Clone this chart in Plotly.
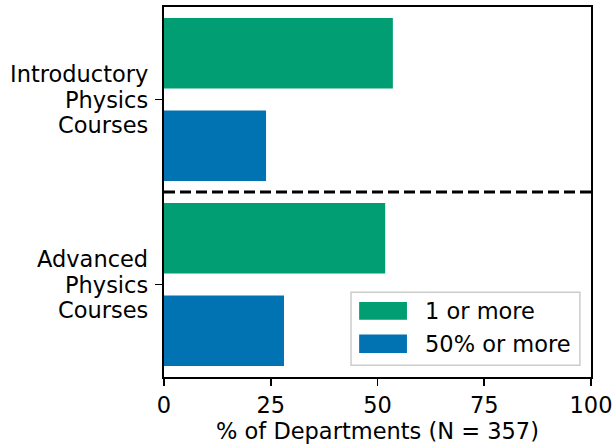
import plotly.graph_objects as go

categories = ["Advanced\nPhysics\nCourses", "Introductory\nPhysics\nCourses"]
series_names = ["1 or more", "50% or more"]
one_or_more = [51.8, 53.6]
fifty_or_more = [28.1, 23.9]
x_ticks = [0, 25, 50, 75, 100]

GREEN = "#029e73"
BLUE = "#0173b2"
FONT = "DejaVu Sans"
FS = 22.5

fig = go.Figure()
fig.add_trace(go.Bar(y=categories, x=fifty_or_more, orientation="h",
                     marker=dict(color=BLUE, line=dict(width=0)),
                     name=series_names[1], showlegend=False))
fig.add_trace(go.Bar(y=categories, x=one_or_more, orientation="h",
                     marker=dict(color=GREEN, line=dict(width=0)),
                     name=series_names[0], showlegend=False))

# right-aligned multi-line category labels
for cat in categories:
    lines = cat.split("\n")
    n = len(lines)
    for i, ln in enumerate(lines):
        fig.add_annotation(xref="paper", yref="y", x=0, y=cat, text=ln, showarrow=False,
                           xanchor="right", yanchor="middle", xshift=-14,
                           yshift=(n - 1) / 2 * 25.5 - i * 25.5,
                           font=dict(family=FONT, size=FS, color="black"))

# separator dashed line between groups
fig.add_shape(type="line", xref="paper", x0=0, x1=1, yref="y", y0=0.5, y1=0.5,
              line=dict(color="black", width=3, dash="11px,5px"))

# manual legend (matplotlib style)
fig.add_shape(type="rect", xref="paper", yref="paper", x0=0.438, x1=0.974, y0=0.032, y1=0.229,
              line=dict(color="#cccccc", width=1.5), fillcolor="rgba(255,255,255,0.8)", layer="above")
legend_rows = [(series_names[0], GREEN, 0.155, 0.203, 0.179),
               (series_names[1], BLUE, 0.065, 0.115, 0.090)]
for name, col, y0, y1, yc in legend_rows:
    fig.add_shape(type="rect", xref="paper", yref="paper", x0=0.457, x1=0.569, y0=y0, y1=y1,
                  line=dict(width=0), fillcolor=col, layer="above")
    fig.add_annotation(xref="paper", yref="paper", x=0.607, y=yc, text=name, showarrow=False,
                       xanchor="left", yanchor="middle", font=dict(family=FONT, size=FS, color="black"))

fig.update_layout(
    width=613, height=445,
    margin=dict(l=163.5, r=22, t=7, b=68),
    paper_bgcolor="white", plot_bgcolor="white",
    barmode="group", bargap=0, bargroupgap=0.24,
    font=dict(family=FONT, size=FS, color="black"),
    showlegend=False,
)
fig.update_xaxes(range=[0, 100], tickvals=x_ticks, ticks="outside", ticklen=7, tickwidth=1.6,
                 tickcolor="black", showline=True, linecolor="black", linewidth=1.6, mirror=True,
                 showgrid=False, zeroline=False, automargin=False,
                 title=dict(text="% of Departments (N = 357)", standoff=4,
                            font=dict(family=FONT, size=FS, color="black")),
                 tickfont=dict(size=FS))
fig.update_yaxes(type="category", range=[-0.5, 1.5], ticks="outside", ticklen=7, tickwidth=1.6,
                 tickcolor="black", showline=True, linecolor="black", linewidth=1.6, mirror=True,
                 showgrid=False, zeroline=False, automargin=False, showticklabels=False)

fig.write_html("out.html", config={"displayModeBar": False, "staticPlot": True},
               post_script="document.body.style.margin='0';document.body.style.overflow='hidden';")
